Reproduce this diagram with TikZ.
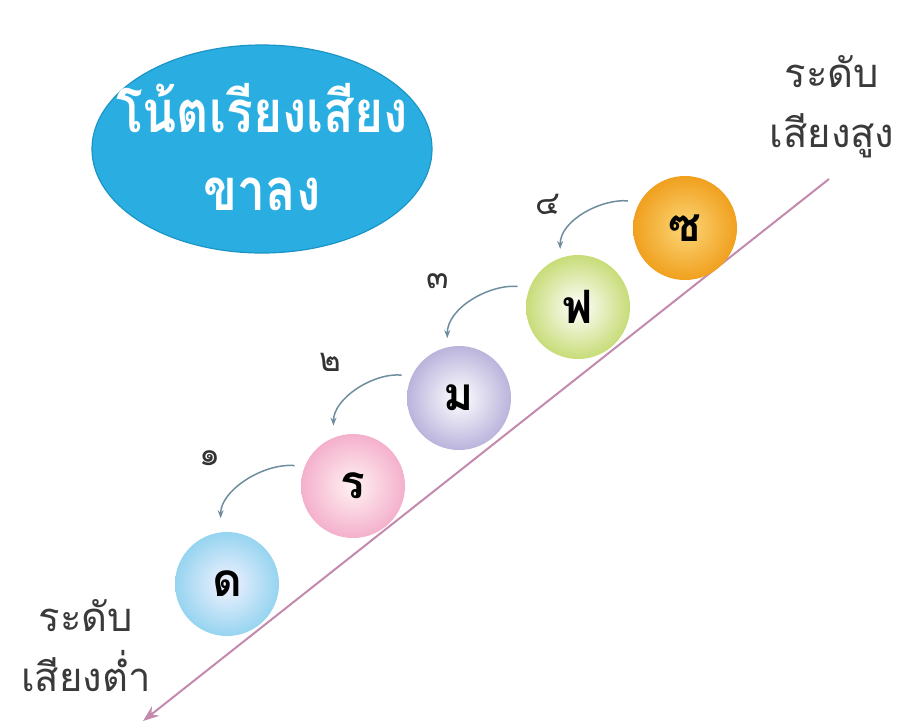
\documentclass[tikz,border=0pt]{standalone}
\usepackage{fontspec}
\newfontfamily\thai[Script=Thai]{Loma}
\newfontfamily\thaititle[Script=Thai, FakeStretch=0.86]{Loma}
\usetikzlibrary{arrows.meta,shapes.geometric}
\definecolor{ellfill}{HTML}{2AAEE2}
\definecolor{elldraw}{HTML}{1B95C6}
\definecolor{axis}{HTML}{C48AAE}
\definecolor{curv}{HTML}{6E8E9E}
\definecolor{labtxt}{HTML}{3A3A3A}
\tikzset{
  ball/.style={circle, minimum size=104pt, inner sep=0pt, shading=radial, font=\thai\bfseries\fontsize{46}{46}\selectfont},
  lab/.style={align=center, text=labtxt, font=\thai\fontsize{40}{60}\selectfont},
  num/.style={text=black!80, font=\thai\fontsize{33}{33}\selectfont},
  curarrow/.style={draw=curv, line width=1.5pt, -{Stealth[length=8pt,width=6pt]}},
}
\begin{document}
\begin{tikzpicture}[x=1pt,y=-1pt]
\useasboundingbox (0,0) rectangle (904,724);
\fill[white] (0,0) rectangle (904,724);
% title ellipse
\node[ellipse, draw=elldraw, line width=1.2pt, fill=ellfill, minimum width=340pt, minimum height=208pt, inner sep=0pt] (title) at (262,149) {};
\node[align=center, text=white, inner sep=0pt, font=\thaititle\bfseries\fontsize{58}{78}\selectfont] (titletext) at ([yshift=2pt]title.center) {โน้ตเรียงเสียง\\ขาลง};
% axis
\coordinate (hi) at (829,179);
\coordinate (lo) at (143,721);
\draw[axis, line width=2pt, -{Stealth[length=16pt,width=12pt]}] (hi) -- (lo);
% balls
\node[ball, inner color=blue!5!white, outer color={rgb,255:red,150;green,212;blue,240}] (d) at (227,584) {ด};
\node[ball, inner color=pink!20!white, outer color={rgb,255:red,244;green,176;blue,204}] (r) at (353,486) {ร};
\node[ball, inner color=white, outer color={rgb,255:red,186;green,180;blue,220}] (m) at (459,398) {ม};
\node[ball, inner color=white, outer color={rgb,255:red,200;green,220;blue,120}] (f) at (578,307) {ฟ};
\node[ball, inner color={rgb,255:red,252;green,214;blue,120}, outer color={rgb,255:red,240;green,160;blue,30}] (z) at (685,228) {ซ};
% numbers
\node[num] (n4) at (548,204) {๔};
\node[num] (n3) at (438,281) {๓};
\node[num] (n2) at (330,362) {๒};
\node[num] (n1) at (210,458) {๑};
% curved arrows
\draw[curarrow, shorten <=12pt, shorten >=9pt] (z.150) to[out=175, in=90] (f.110);
\draw[curarrow, shorten <=12pt, shorten >=9pt] (f.158) to[out=175, in=90] (m.103);
\draw[curarrow, shorten <=10pt, shorten >=12pt] (m.155) to[out=175, in=90] (r.112);
\draw[curarrow, shorten <=10pt, shorten >=14pt] (r.158) to[out=175, in=90] (d.97);
% labels
\node[lab] (high) at (832,107) {ระดับ\\เสียงสูง};
\node[lab] (low) at (86,646) {ระดับ\\เสียงต่ำ};
\end{tikzpicture}
\end{document}
